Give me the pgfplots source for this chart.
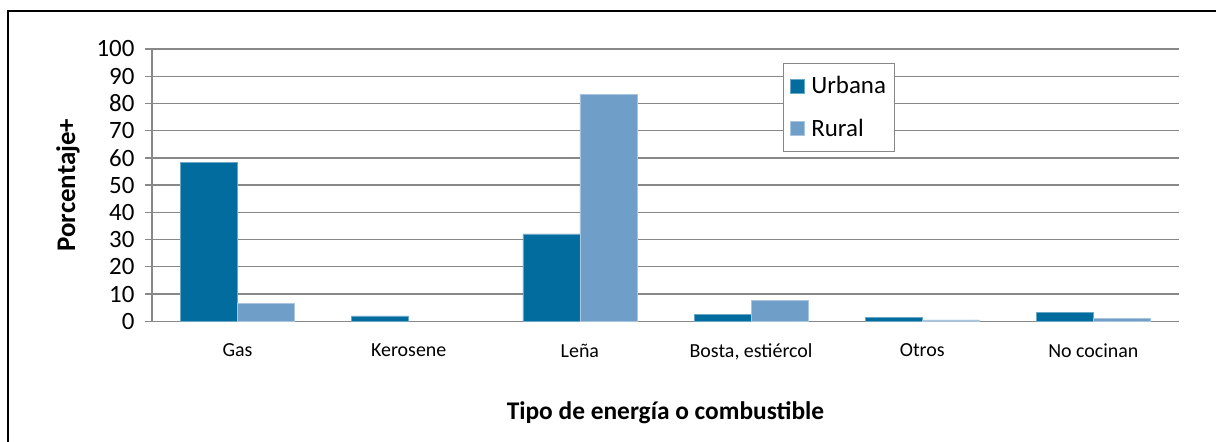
\documentclass[border=0pt]{standalone}
\usepackage{pgfplots}
\pgfplotsset{compat=1.18}
\usepackage{fontspec}
\setmainfont{Carlito}
\definecolor{urb}{HTML}{036C9E}
\definecolor{rur}{HTML}{6F9EC8}
\definecolor{grid}{HTML}{888888}
\begin{document}
\begin{tikzpicture}
\useasboundingbox (-152bp,-120.7bp) rectangle (1064bp,321.3bp);
\draw[black,line width=1.2bp] (-144bp,-120.7bp) -- (-144bp,310.3bp) -- (1064bp,310.3bp);
\begin{axis}[
  at={(0,0)}, anchor=south west,
  scale only axis, width=1027bp, height=272.3bp,
  ybar, bar width=57bp,
  xmin=-0.5, xmax=5.5, ymin=0, ymax=100,
  ytick={0,10,...,100},
  xtick={0,1,2,3,4,5},
  xticklabels={Gas,Kerosene,Leña,{Bosta, estiércol},Otros,No cocinan},
  /pgf/number format/assume math mode=true,
  axis x line*=bottom, axis y line*=left,
  axis line style={draw=grid, line width=1.6bp},
  x axis line style={-}, y axis line style={-},
  ymajorgrids, grid style={draw=grid, line width=1.3bp},
  major tick length=7bp, tick align=outside,
  ytick style={draw=grid, line width=1.3bp},
  xtick style={draw=none},
  yticklabel style={font=\fontsize{25}{25}\selectfont, xshift=-7bp},
  xticklabel style={font=\fontsize{20}{20}\selectfont, yshift=-12bp},
  xlabel={Tipo de energía o combustible},
  ylabel={Porcentaje+},
  xlabel style={at={([yshift=-91.7bp]rel axis cs:0.5,0)}, anchor=center, font=\bfseries\fontsize{25.5}{25.5}\selectfont},
  ylabel style={at={([xshift=-84bp]rel axis cs:0,0.5)}, anchor=center, font=\bfseries\fontsize{27}{27}\selectfont},
  legend style={at={(rel axis cs:0.6144,0.9486)}, anchor=north west, draw=grid, line width=1bp, fill=white,
    font=\fontsize{25}{25}\selectfont, inner xsep=7bp, inner ysep=11bp, row sep=20bp,
    /tikz/every even column/.append style={column sep=0bp}},
  legend image code/.code={\fill[#1] (0bp,-7bp) rectangle (14bp,7bp);},
  legend cell align=left,
]
\addplot[fill=urb, draw=urb!60!white, line width=0.7bp, bar shift=-28.5bp] coordinates {(0,58.2) (1,2.0) (2,32.1) (3,2.6) (4,1.5) (5,3.3)};
\addplot[fill=rur, draw=rur!60!white, line width=0.7bp, bar shift=28.5bp] coordinates {(0,6.6) (2,83.4) (3,7.7) (4,0.5) (5,1.1)};
\legend{\,Urbana,\,Rural}
\end{axis}
\end{tikzpicture}
\end{document}
